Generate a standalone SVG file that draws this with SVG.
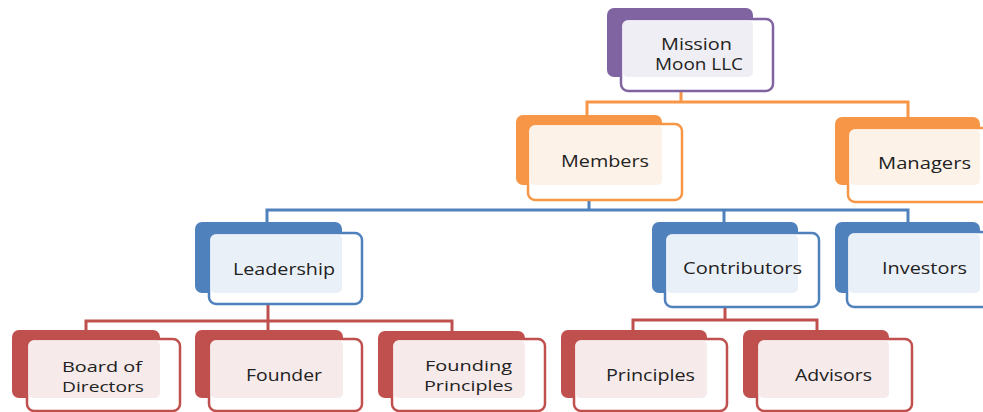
<svg xmlns="http://www.w3.org/2000/svg" width="983" height="412" viewBox="0 0 983 412">
<style>
.t{font-family:"Open Sans","Liberation Sans",sans-serif;font-size:16px;fill:#222;}
.s{font-size:15px;}
.c{fill:none;stroke-width:3;}
.fr{fill:#fff;stroke-width:2.5;}
.pb{fill:#8064a2}.pf{stroke:#8064a2}.pt{fill:#f0eef5}
.ob{fill:#f79646}.of{stroke:#f79646}.ot{fill:#fdf2e8}
.bb{fill:#4f81bd}.bf{stroke:#4f81bd}.bt{fill:#eaf0f8}
.rb{fill:#c0504d}.rf{stroke:#c0504d}.rt{fill:#f6eaea}
</style>
<rect width="983" height="412" fill="#fff"/>
<g id="connectors">
<path class="c" stroke="#f79646" d="M681 91V102H587V115M681 102H908V117"/>
<path class="c" stroke="#4f81bd" d="M589 200V210H267V222M589 210H908V222M724 210V222"/>
<path class="c" stroke="#c0504d" d="M268 304V321H86V330M268 321H452V331M268 321V330"/>
<path class="c" stroke="#c0504d" d="M725 307V320H633V330M725 320H817V330"/>
</g>
<g id="mission">
<rect class="pb" x="607" y="8" width="146" height="69" rx="7"/>
<rect class="fr pf" x="621" y="19" width="152" height="72" rx="7"/>
<rect class="pt" x="622.5" y="20.5" width="130.5" height="56.5" rx="5"/>
<text class="t" x="661" y="50" textLength="71" lengthAdjust="spacingAndGlyphs">Mission</text>
<text class="t" x="655" y="70" textLength="88" lengthAdjust="spacingAndGlyphs">Moon LLC</text>
</g>
<g id="members">
<rect class="ob" x="516" y="115" width="146" height="70" rx="7"/>
<rect class="fr of" x="528" y="124" width="154" height="76" rx="7"/>
<rect class="ot" x="529.5" y="125.5" width="132.5" height="59.5" rx="5"/>
<text class="t" x="561" y="167" textLength="88" lengthAdjust="spacingAndGlyphs">Members</text>
</g>
<g id="managers">
<rect class="ob" x="835" y="117" width="145" height="68" rx="7"/>
<rect class="fr of" x="848" y="128" width="150" height="74" rx="7"/>
<rect class="ot" x="849.5" y="129.5" width="130.5" height="55.5" rx="5"/>
<text class="t" x="878" y="169" textLength="93" lengthAdjust="spacingAndGlyphs">Managers</text>
</g>
<g id="leadership">
<rect class="bb" x="195" y="222" width="147" height="71" rx="7"/>
<rect class="fr bf" x="209" y="233" width="153" height="71" rx="7"/>
<rect class="bt" x="210.5" y="234.5" width="131.5" height="58.5" rx="5"/>
<text class="t" x="233" y="275" textLength="102" lengthAdjust="spacingAndGlyphs">Leadership</text>
</g>
<g id="contributors">
<rect class="bb" x="652" y="222" width="146" height="71" rx="7"/>
<rect class="fr bf" x="665" y="233" width="154" height="74" rx="7"/>
<rect class="bt" x="666.5" y="234.5" width="131.5" height="58.5" rx="5"/>
<text class="t" x="683" y="274" textLength="119" lengthAdjust="spacingAndGlyphs">Contributors</text>
</g>
<g id="investors">
<rect class="bb" x="835" y="222" width="145" height="71" rx="7"/>
<rect class="fr bf" x="847" y="232" width="150" height="75" rx="7"/>
<rect class="bt" x="848.5" y="233.5" width="131.5" height="59.5" rx="5"/>
<text class="t" x="882" y="274" textLength="85" lengthAdjust="spacingAndGlyphs">Investors</text>
</g>
<g id="board">
<rect class="rb" x="12" y="330" width="148" height="68" rx="7"/>
<rect class="fr rf" x="27" y="339" width="153" height="72" rx="7"/>
<rect class="rt" x="28.5" y="340.5" width="131.5" height="57.5" rx="5"/>
<text class="t s" x="62" y="372" textLength="80" lengthAdjust="spacingAndGlyphs">Board of</text>
<text class="t s" x="62" y="392" textLength="82" lengthAdjust="spacingAndGlyphs">Directors</text>
</g>
<g id="founder">
<rect class="rb" x="195" y="330" width="148" height="68" rx="7"/>
<rect class="fr rf" x="209" y="339" width="153" height="72" rx="7"/>
<rect class="rt" x="210.5" y="340.5" width="132.5" height="57.5" rx="5"/>
<text class="t" x="246" y="381" textLength="76" lengthAdjust="spacingAndGlyphs">Founder</text>
</g>
<g id="founding-principles">
<rect class="rb" x="378" y="331" width="147" height="67" rx="7"/>
<rect class="fr rf" x="392" y="339" width="153" height="72" rx="7"/>
<rect class="rt" x="393.5" y="340.5" width="131.5" height="57.5" rx="5"/>
<text class="t s" x="425" y="371" textLength="87" lengthAdjust="spacingAndGlyphs">Founding</text>
<text class="t s" x="424" y="391" textLength="89" lengthAdjust="spacingAndGlyphs">Principles</text>
</g>
<g id="principles">
<rect class="rb" x="561" y="330" width="146" height="68" rx="7"/>
<rect class="fr rf" x="574" y="339" width="153" height="72" rx="7"/>
<rect class="rt" x="575.5" y="340.5" width="131.5" height="57.5" rx="5"/>
<text class="t" x="606" y="381" textLength="89" lengthAdjust="spacingAndGlyphs">Principles</text>
</g>
<g id="advisors">
<rect class="rb" x="743" y="330" width="146" height="68" rx="7"/>
<rect class="fr rf" x="757" y="339" width="155" height="72" rx="7"/>
<rect class="rt" x="758.5" y="340.5" width="130.5" height="57.5" rx="5"/>
<text class="t" x="795" y="381" textLength="77" lengthAdjust="spacingAndGlyphs">Advisors</text>
</g>
</svg>
